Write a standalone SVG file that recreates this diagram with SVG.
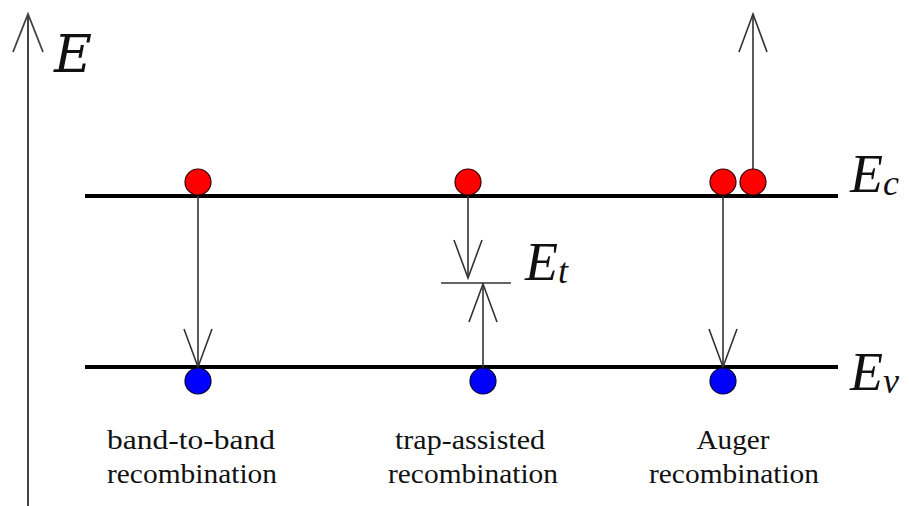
<svg xmlns="http://www.w3.org/2000/svg" width="909" height="506" viewBox="0 0 909 506">
<style>
.band{stroke:#000;stroke-width:4;fill:none}
.arr{stroke:#333;stroke-width:1.6;fill:none;marker-end:url(#open)}
.el{fill:#f00;stroke:#300;stroke-width:1.2}
.ho{fill:#00f;stroke:#003;stroke-width:1.2}
.lbl{font-size:27px;fill:#111;text-anchor:middle}
.sym{font-style:italic;fill:#111}
</style>
<defs>
<marker id="open" markerUnits="userSpaceOnUse" viewBox="-40 -16 42 32" refX="0" refY="0" markerWidth="42" markerHeight="32" orient="auto" overflow="visible">
<path d="M-38,-14 L0,0 L-38,14" fill="none" stroke="#333" stroke-width="1.6"/>
</marker>
</defs>
<g id="axis">
<line x1="28" y1="506" x2="28" y2="14" stroke="#444" stroke-width="2"/>
<path d="M13,52 L28,14 L43,52" fill="none" stroke="#444" stroke-width="1.8"/>
<text class="sym" font-family="DejaVu Serif, serif" x="54" y="72" font-size="52">E</text>
</g>
<g id="bands">
<line class="band" x1="85" y1="196" x2="838" y2="196"/>
<line class="band" x1="85" y1="367" x2="838" y2="367"/>
<line x1="441" y1="283" x2="511" y2="283" stroke="#333" stroke-width="1.6"/>
</g>
<g id="connectors">
<line class="arr" x1="198" y1="196" x2="198" y2="367"/>
<line class="arr" x1="468" y1="196" x2="468" y2="278"/>
<line class="arr" x1="483" y1="368" x2="483" y2="284"/>
<line class="arr" x1="723" y1="196" x2="723" y2="367"/>
<line class="arr" x1="753" y1="170" x2="753" y2="14"/>
</g>
<g id="band-to-band" font-family="Liberation Serif, serif">
<circle class="el" cx="198" cy="182" r="13"/>
<circle class="ho" cx="198" cy="381" r="13"/>
<text class="lbl" x="191" y="449" textLength="168" lengthAdjust="spacingAndGlyphs">band-to-band</text>
<text class="lbl" x="192" y="483" textLength="170" lengthAdjust="spacingAndGlyphs">recombination</text>
</g>
<g id="trap-assisted" font-family="Liberation Serif, serif">
<circle class="el" cx="468" cy="182" r="13"/>
<circle class="ho" cx="483" cy="381" r="13"/>
<text class="lbl" x="470" y="449" textLength="150" lengthAdjust="spacingAndGlyphs">trap-assisted</text>
<text class="lbl" x="473" y="483" textLength="170" lengthAdjust="spacingAndGlyphs">recombination</text>
</g>
<g id="auger" font-family="Liberation Serif, serif">
<circle class="el" cx="723" cy="182" r="13"/>
<circle class="el" cx="753" cy="182" r="13"/>
<circle class="ho" cx="723" cy="381" r="13"/>
<text class="lbl" x="733" y="449" textLength="73" lengthAdjust="spacingAndGlyphs">Auger</text>
<text class="lbl" x="734" y="483" textLength="170" lengthAdjust="spacingAndGlyphs">recombination</text>
</g>
<g id="labels" font-family="Liberation Serif, serif">
<text class="sym" x="850" y="192" font-size="54">E<tspan font-size="36" dy="3">c</tspan></text>
<text class="sym" x="525" y="280" font-size="54">E<tspan font-size="36" dy="3">t</tspan></text>
<text class="sym" x="850" y="390" font-size="54">E<tspan font-size="36" dy="3">v</tspan></text>
</g>
</svg>
